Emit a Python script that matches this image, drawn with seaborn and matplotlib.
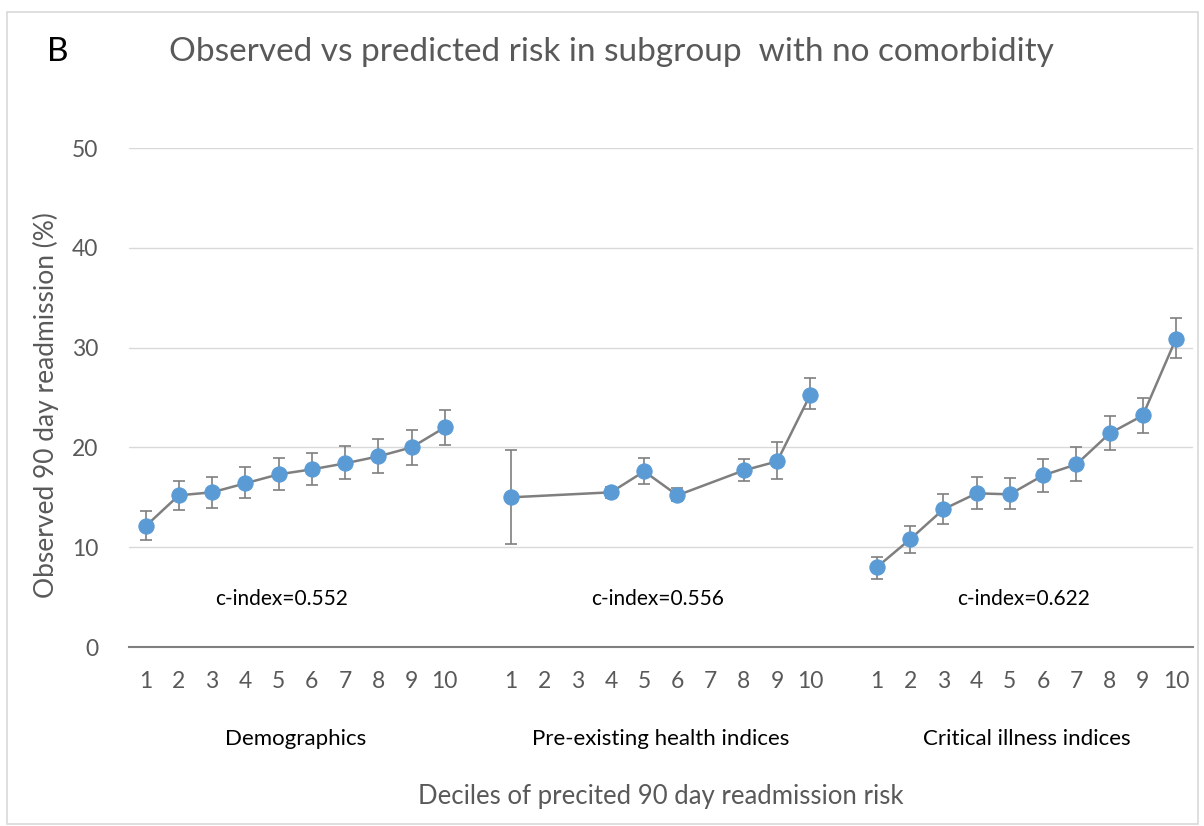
import matplotlib.pyplot as plt
import matplotlib.patches as mpatches
import pandas as pd
import seaborn as sns

# observed 90 day readmission (%) by decile of predicted risk, with CI bounds
deciles = list(range(1, 11))
groups = ["Demographics", "Pre-existing health indices", "Critical illness indices"]
c_index = ["c-index=0.552", "c-index=0.556", "c-index=0.622"]

demo_dec = deciles
demo_obs = [12.1, 15.2, 15.5, 16.4, 17.3, 17.8, 18.4, 19.1, 20.0, 22.0]
demo_lo = [10.7, 13.7, 13.9, 14.9, 15.7, 16.2, 16.8, 17.4, 18.2, 20.2]
demo_hi = [13.6, 16.6, 17.0, 18.0, 18.9, 19.4, 20.1, 20.8, 21.7, 23.7]

pre_dec = [1, 4, 5, 6, 8, 9, 10]
pre_obs = [15.0, 15.5, 17.6, 15.2, 17.7, 18.6, 25.3]
pre_lo = [10.3, 14.9, 16.3, 14.6, 16.6, 16.8, 23.8]
pre_hi = [19.7, 16.0, 18.9, 15.9, 18.8, 20.5, 27.0]

crit_dec = deciles
crit_obs = [8.0, 10.8, 13.8, 15.4, 15.3, 17.2, 18.3, 21.4, 23.2, 30.9]
crit_lo = [6.8, 9.4, 12.3, 13.8, 13.8, 15.5, 16.6, 19.7, 21.4, 29.0]
crit_hi = [9.0, 12.1, 15.3, 17.0, 16.9, 18.8, 20.0, 23.1, 25.0, 33.0]

series = [
    (demo_dec, demo_obs, demo_lo, demo_hi),
    (pre_dec, pre_obs, pre_lo, pre_hi),
    (crit_dec, crit_obs, crit_lo, crit_hi),
]

# long table, one blank category slot between groups
rows = []
for g, (dec, obs, lo, hi) in enumerate(series):
    for d, o, l, h in zip(dec, obs, lo, hi):
        rows.append({"group": groups[g], "pos": g * 11 + d - 1, "obs": o, "lo": l, "hi": h})
df = pd.DataFrame(rows)

sns.set_theme(style="white")
plt.rcParams["font.family"] = ["Lato", "DejaVu Sans"]

grey = "#595959"
blue = "#5B9BD5"

fig = plt.figure(figsize=(12.04, 8.26), dpi=100)
ax = fig.add_axes([0.1071, 0.2167, 0.8835, 0.6041])

for g in groups:
    sub = df[df["group"] == g]
    ax.errorbar(sub["pos"], sub["obs"],
                yerr=[sub["obs"] - sub["lo"], sub["hi"] - sub["obs"]],
                fmt="none", ecolor="#7F7F7F", elinewidth=1.2, capsize=4, capthick=1.2, zorder=2)
    sns.lineplot(data=sub, x="pos", y="obs", ax=ax, color="#7F7F7F", linewidth=1.8,
                 marker="o", markersize=11, markerfacecolor=blue, markeredgecolor=blue,
                 sort=False, zorder=3)

ax.set_xlim(-0.5, 31.5)
ax.set_ylim(0, 50)
ax.set_yticks([0, 10, 20, 30, 40, 50])
ax.yaxis.grid(True, color="#D9D9D9", linewidth=1)
ax.set_axisbelow(True)

tick_pos = [g * 11 + d - 1 for g in range(3) for d in deciles]
ax.set_xticks(tick_pos)
ax.set_xticklabels([str(d) for _ in range(3) for d in deciles])
ax.tick_params(axis="x", length=0, pad=17, labelsize=16.5, labelcolor=grey)
ax.tick_params(axis="y", length=0, pad=22, labelsize=16.5, labelcolor=grey)

for side in ["top", "right", "left"]:
    ax.spines[side].set_visible(False)
ax.spines["bottom"].set_color("#7F7F7F")
ax.spines["bottom"].set_linewidth(1.5)

ax.set_xlabel("")
ax.set_ylabel("Observed 90 day readmission (%)", fontsize=19, color=grey, labelpad=8)
ax.yaxis.set_label_coords(-0.066, 0.485)

for g in range(3):
    center = g * 11 + 4.5
    ax.text(center, -0.184, groups[g], transform=ax.get_xaxis_transform(),
            ha="center", va="center", fontsize=16, color="black")
    ax.text(center - (0.4 if g == 0 else 0.1), 4.8, c_index[g],
            ha="center", va="center", fontsize=15, color="black")

ax.text(0.5, -0.30, "Deciles of precited 90 day readmission risk", transform=ax.transAxes,
        ha="center", va="center", fontsize=18.5, color=grey)

fig.text(0.508, 0.937, "Observed vs predicted risk in subgroup  with no comorbidity",
         ha="center", va="center", fontsize=24, color=grey)
fig.text(0.048, 0.937, "B", ha="center", va="center", fontsize=24, color="black")

fig.patches.append(mpatches.Rectangle((0.006, 0.002), 0.989, 0.983, transform=fig.transFigure,
                                      fill=False, edgecolor="#D9D9D9", linewidth=1.2))

fig.savefig("out.png", dpi=100)
